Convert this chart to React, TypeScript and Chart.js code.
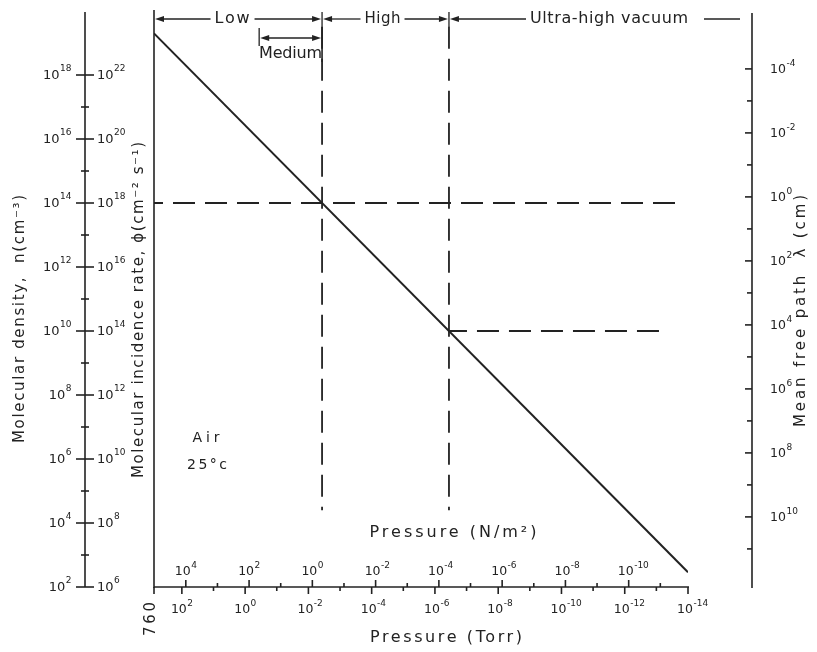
import React, { useEffect, useRef } from 'react';
import { Chart, registerables } from 'chart.js';

Chart.register(...registerables);

// ---------- data ----------
const pressureTorr = [760, 1e-14];
const densityCm3 = [2.0e19, 2.9e2];
const rangeBoundsTorr = [3.7e-3, 3.6e-7]; // Low|High boundary, High|Ultra-high boundary
const mediumStartTorr = 0.36;
const refDensities = [1e14, 1e10];
const refDashStartTorr = [760, 3.6e-7];
const refDashEndTorr = [1.8e-14, 6.5e-14];
const vDashTopDensity = 3.2e19;
const vDashBottomDensity = 2.5e4;
const densityExps = [2, 4, 6, 8, 10, 12, 14, 16, 18];
const fluxExps = [6, 8, 10, 12, 14, 16, 18, 20, 22];
const mfpExps = [-4, -2, 0, 2, 4, 6, 8, 10];
const torrExps = [2, 0, -2, -4, -6, -8, -10, -12, -14];
const paExps = [4, 2, 0, -2, -4, -6, -8, -10];
const rangeLabels = ['Low', 'Medium', 'High', 'Ultra-high vacuum'];
const TORR_TO_PA = 133.322;
const FLUX_PER_DENSITY = 1e4;
const MFP_CONST = 1.55e14; // lambda(cm) = MFP_CONST / n

const INK = '#222222';
const FONT = '"DejaVu Sans", sans-serif';

function pow10(
  ctx: CanvasRenderingContext2D,
  exp: number,
  x: number,
  y: number,
  align: 'left' | 'right' | 'center',
  size = 12,
) {
  const e = String(exp);
  const es = Math.round(size * 0.72);
  (ctx as any).letterSpacing = '0px';
  ctx.font = `${size}px ${FONT}`;
  const wb = ctx.measureText('10').width;
  ctx.font = `${es}px ${FONT}`;
  const we = ctx.measureText(e).width;
  let x0: number;
  if (align === 'left') x0 = x;
  else if (align === 'right') x0 = x - wb - we - 1;
  else x0 = x - wb / 2;
  ctx.textAlign = 'left';
  ctx.textBaseline = 'middle';
  ctx.font = `${size}px ${FONT}`;
  ctx.fillText('10', x0, y + 1);
  ctx.font = `${es}px ${FONT}`;
  ctx.fillText(e, x0 + wb + 0.5, y - size * 0.45);
}

function fitText(ctx: CanvasRenderingContext2D, text: string, cx: number, cy: number, width: number, size: number, rot = 0) {
  ctx.save();
  ctx.font = `${size}px ${FONT}`;
  (ctx as any).letterSpacing = '0px';
  const w = ctx.measureText(text).width;
  const n = Array.from(text).length;
  let ls = n > 1 ? (width - w) / (n - 1) : 0;
  if (ls < -0.3) ls = -0.3;
  (ctx as any).letterSpacing = `${ls}px`;
  const total = w + ls * (n - 1);
  ctx.translate(cx, cy);
  ctx.rotate(rot);
  ctx.textAlign = 'left';
  ctx.textBaseline = 'middle';
  ctx.fillText(text, -total / 2, 0);
  ctx.restore();
  return total;
}

const vacuumPlugin = {
  id: 'vacuumAxes',
  afterDraw(chart: any) {
    const ctx: CanvasRenderingContext2D = chart.ctx;
    const { left, top, bottom } = chart.chartArea;
    const sx = chart.scales.x;
    const sxPa = chart.scales.xPa;
    const sy = chart.scales.y;
    const sPhi = chart.scales.yPhi;
    const sLam = chart.scales.yLam;
    ctx.save();
    ctx.strokeStyle = INK;
    ctx.fillStyle = INK;
    ctx.lineWidth = 1.6;
    const line = (x1: number, y1: number, x2: number, y2: number) => {
      ctx.beginPath();
      ctx.moveTo(x1, y1);
      ctx.lineTo(x2, y2);
      ctx.stroke();
    };
    const arrow = (tip: number, y: number, dir: number) => {
      ctx.beginPath();
      ctx.moveTo(tip, y);
      ctx.lineTo(tip - dir * 9, y - 3);
      ctx.lineTo(tip - dir * 9, y + 3);
      ctx.closePath();
      ctx.fill();
    };

    // ---- frame & bottom axis ----
    line(left, top - 1, left, bottom + 1);
    const xEnd = sx.getPixelForValue(1e-14);
    line(left, bottom, xEnd + 1, bottom);
    for (let e = 2; e >= -14; e--) {
      const x = sx.getPixelForValue(Math.pow(10, e));
      line(x, bottom, x, bottom + (e % 2 === 0 ? 7 : 4));
    }
    line(left, bottom, left, bottom + 7);
    for (let e = 4; e >= -11; e--) {
      const x = sxPa.getPixelForValue(Math.pow(10, e));
      line(x, bottom, x, bottom - (e % 2 === 0 ? 7 : 4));
    }
    torrExps.forEach((e) => pow10(ctx, e, sx.getPixelForValue(Math.pow(10, e)) - 3, bottom + 22, 'center', 12.5));
    paExps.forEach((e) => pow10(ctx, e, sxPa.getPixelForValue(Math.pow(10, e)) - 3, bottom - 16, 'center', 12.5));
    fitText(ctx, '760', left - 3, bottom + 32, 34, 15, -Math.PI / 2);
    fitText(ctx, 'Pressure (N/m²)', 453, 533, 167, 16);
    fitText(ctx, 'Pressure (Torr)', 446, 638, 152, 16);

    // ---- left axis (density / incidence rate) ----
    const LAX = 85;
    line(LAX, top + 1, LAX, sy.getPixelForValue(1e2));
    for (let e = 2; e <= 18; e++) {
      const y = sy.getPixelForValue(Math.pow(10, e));
      const h = e % 2 === 0 ? 9 : 4;
      line(LAX - h, y, LAX + h, y);
    }
    densityExps.forEach((e) => pow10(ctx, e, 72, sy.getPixelForValue(Math.pow(10, e)), 'right', 13));
    fluxExps.forEach((e) => pow10(ctx, e, 97, sPhi.getPixelForValue(Math.pow(10, e)), 'left', 13));
    fitText(ctx, 'Molecular density,  n(cm⁻³)', 20, 319, 248, 15, -Math.PI / 2);
    fitText(ctx, 'Molecular incidence rate, ϕ(cm⁻² s⁻¹)', 139, 310, 336, 15, -Math.PI / 2);

    // ---- right axis (mean free path) ----
    const RAX = 752;
    line(RAX, 13, RAX, bottom + 1);
    for (let e = -4; e <= 11; e++) {
      const y = sLam.getPixelForValue(Math.pow(10, e));
      line(RAX - (e % 2 === 0 ? 7 : 5), y, RAX, y);
    }
    mfpExps.forEach((e) => pow10(ctx, e, 770, sLam.getPixelForValue(Math.pow(10, e)), 'left', 12.5));
    fitText(ctx, 'Mean free path  λ (cm)', 801, 311, 232, 15, -Math.PI / 2);

    // ---- top band (vacuum ranges) ----
    ctx.lineWidth = 1.3;
    const yb = 19;
    const xLH = sx.getPixelForValue(rangeBoundsTorr[0]);
    const xHU = sx.getPixelForValue(rangeBoundsTorr[1]);
    const xMed = sx.getPixelForValue(mediumStartTorr);
    // Low
    const lowC = (left + xLH) / 2 - 6;
    const lowW = fitText(ctx, rangeLabels[0], lowC, yb, 35, 16);
    arrow(left + 1, yb, -1);
    line(left + 9, yb, lowC - lowW / 2 - 4, yb);
    line(lowC + lowW / 2 + 5, yb, xLH - 9, yb);
    arrow(xLH - 1, yb, 1);
    line(xLH, top + 1, xLH, 27);
    // High
    const highC = (xLH + xHU) / 2 - 3;
    const highW = fitText(ctx, rangeLabels[2], highC, yb, 36, 15);
    arrow(xLH + 1, yb, -1);
    line(xLH + 9, yb, highC - highW / 2 - 4, yb);
    line(highC + highW / 2 + 4, yb, xHU - 9, yb);
    arrow(xHU - 1, yb, 1);
    line(xHU, top + 1, xHU, 27);
    // Ultra-high vacuum
    const uhvC = 609;
    const uhvW = fitText(ctx, rangeLabels[3], uhvC, yb, 158, 16);
    arrow(xHU + 1, yb, -1);
    line(xHU + 9, yb, uhvC - uhvW / 2 - 4, yb);
    line(uhvC + uhvW / 2 + 16, yb, 740, yb);
    // Medium
    const ym = 38;
    line(xMed, 28, xMed, 46);
    arrow(xMed + 1, ym, -1);
    line(xMed + 9, ym, xLH - 9, ym);
    arrow(xLH - 1, ym, 1);
    ctx.lineWidth = 1.6;
    line(xLH, 27, xLH, 62);
    fitText(ctx, rangeLabels[1], (xMed + xLH) / 2, 54, 63, 16);

    // ---- annotation ----
    fitText(ctx, 'Air', 206, 438, 27, 14);
    fitText(ctx, '25°c', 207, 465, 40, 14);
    ctx.restore();
  },
};

export default function App() {
  const ref = useRef<HTMLCanvasElement>(null);
  useEffect(() => {
    const canvas = ref.current;
    if (!canvas) return;
    const mainLine = pressureTorr.map((p, i) => ({ x: p, y: densityCm3[i] }));
    const hDash = refDensities.map((n, i) => [
      { x: refDashStartTorr[i], y: n },
      { x: refDashEndTorr[i], y: n },
    ]);
    const vDash = rangeBoundsTorr.map((p) => [
      { x: p, y: vDashTopDensity },
      { x: p, y: vDashBottomDensity },
    ]);
    const dashStyle = {
      showLine: true,
      borderColor: INK,
      borderWidth: 1.8,
      borderDash: [22, 10],
      pointRadius: 0,
      fill: false,
    };
    const chart = new Chart(canvas, {
      type: 'scatter',
      data: {
        datasets: [
          { ...dashStyle, label: 'n = 1e14', data: hDash[0], borderDashOffset: 13 },
          { ...dashStyle, label: 'n = 1e10', data: hDash[1], borderDashOffset: 4 },
          { ...dashStyle, label: 'Low/High', data: vDash[0], borderDashOffset: 0 },
          { ...dashStyle, label: 'High/UHV', data: vDash[1], borderDashOffset: 0 },
          {
            label: 'Air 25°C',
            data: mainLine,
            showLine: true,
            borderColor: INK,
            borderWidth: 2,
            pointRadius: 0,
            fill: false,
          },
        ],
      },
      options: {
        responsive: false,
        animation: false,
        layout: { padding: { left: 154, right: 129, top: 11, bottom: 65 } },
        plugins: { legend: { display: false }, tooltip: { enabled: false }, title: { display: false } },
        scales: {
          x: { type: 'logarithmic', reverse: true, min: 1e-14, max: 760, bounds: 'data', display: false },
          xPa: {
            type: 'logarithmic',
            axis: 'x',
            reverse: true,
            min: 1e-14 * TORR_TO_PA,
            max: 760 * TORR_TO_PA,
            bounds: 'data',
            display: false,
          },
          y: { type: 'logarithmic', min: 1e2, max: 1e20, bounds: 'data', display: false },
          yPhi: {
            type: 'logarithmic',
            axis: 'y',
            min: 1e2 * FLUX_PER_DENSITY,
            max: 1e20 * FLUX_PER_DENSITY,
            bounds: 'data',
            display: false,
          },
          yLam: {
            type: 'logarithmic',
            axis: 'y',
            reverse: true,
            min: MFP_CONST / 1e20,
            max: MFP_CONST / 1e2,
            bounds: 'data',
            display: false,
          },
        },
      } as any,
      plugins: [vacuumPlugin],
    });
    return () => chart.destroy();
  }, []);
  return (
    <div style={{ position: 'fixed', left: 0, top: 0, width: 817, height: 652, background: '#fff' }}>
      <canvas ref={ref} width={817} height={652} style={{ display: 'block', width: 817, height: 652 }} />
    </div>
  );
}
